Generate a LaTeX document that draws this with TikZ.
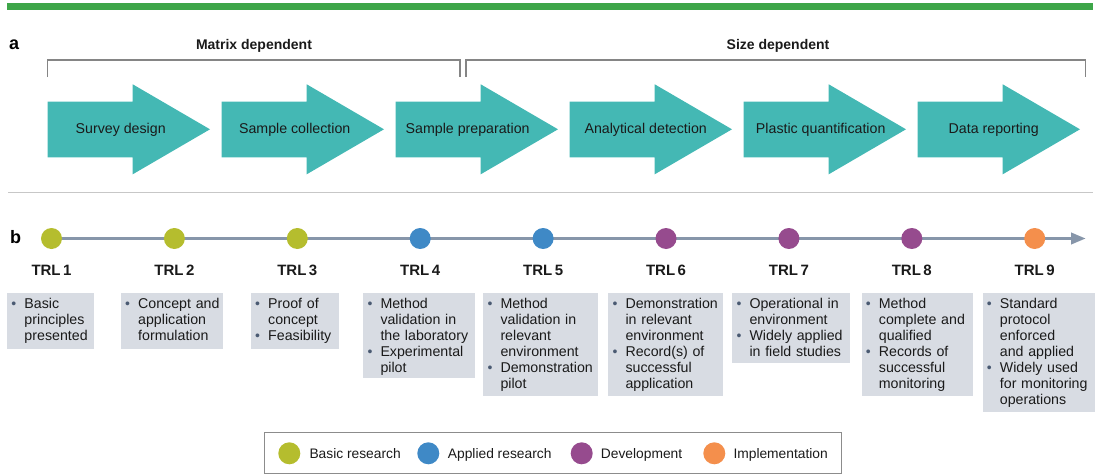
\documentclass[tikz,border=0pt]{standalone}
\usepackage{fontspec}
\setmainfont{Liberation Sans}
\usetikzlibrary{arrows.meta}

\definecolor{barGreen}{HTML}{3EA649}
\definecolor{stepTeal}{HTML}{44B8B4}
\definecolor{basicC}{HTML}{B5BD2E}
\definecolor{appliedC}{HTML}{3F89C6}
\definecolor{devC}{HTML}{964B8E}
\definecolor{implC}{HTML}{F48F4C}
\definecolor{axisC}{HTML}{8796AA}
\definecolor{boxC}{HTML}{D8DCE3}
\definecolor{bulletC}{HTML}{4A5A72}
\definecolor{bracketC}{HTML}{858585}
\definecolor{inkC}{HTML}{1A1A1A}

\newcommand{\txtfont}{\fontsize{14.2}{16}\selectfont}
\newcommand{\bul}{\makebox[12pt][l]{\hspace*{-1pt}\textcolor{bulletC}{\fontsize{14}{14}\selectfont •}}}
\newcommand{\ind}{\hspace*{12pt}}

\tikzset{
  steplabel/.style={font=\fontsize{14.2}{16}\selectfont, text=inkC, inner sep=0pt, anchor=base},
  header/.style={font=\fontsize{14}{16}\selectfont\bfseries, text=inkC, inner sep=0pt, anchor=base},
  panel/.style={font=\fontsize{18}{20}\selectfont\bfseries, text=black, inner sep=0pt, anchor=base west},
  bracket/.style={draw=bracketC, line width=1.1pt},
  trldot/.style={circle, minimum size=21pt, inner sep=0pt},
  trllabel/.style={font=\fontsize{15}{16}\selectfont\bfseries, text=inkC, inner sep=0pt, anchor=base},
  trlbox/.style={fill=boxC, draw=none},
  trltext/.style={font=\txtfont, text=inkC, inner sep=0pt, anchor=north west, align=left, text width=130pt},
  legdot/.style={circle, minimum size=22pt, inner sep=0pt},
  legtext/.style={font=\fontsize{13.8}{16}\selectfont, text=inkC, inner sep=0pt, anchor=base west},
}

\begin{document}
\begin{tikzpicture}[x=1pt, y=-1pt]
\useasboundingbox (0,0) rectangle (1098,474);

% top rule
\fill[barGreen] (7,2.5) rectangle (1093,9.5);

% ---------- panel a ----------
\node[panel] (pa) at (9,49) {a};
\node[header] (hm) at (254,49.3) {Matrix dependent};
\node[header] (hs) at (778,49.3) {Size dependent};

\draw[bracket] (47.7,77) -- (47.7,60) -- (460,60) -- (460,77);
\draw[bracket] (466,77) -- (466,60) -- (1085.5,60) -- (1085.5,77);

% workflow steps
\foreach \i/\lab/\dx in {1/Survey design/73, 2/Sample collection/73, 3/Sample preparation/72,
                         4/Analytical detection/76, 5/Plastic quantification/77, 6/Data reporting/76}{
  \pgfmathsetmacro{\sx}{47.7+174*(\i-1)}
  \fill[stepTeal] (\sx,101.7) -- (\sx+85,101.7) -- (\sx+85,84.3) -- (\sx+162.3,129.3)
                  -- (\sx+85,174.3) -- (\sx+85,157.3) -- (\sx,157.3) -- cycle;
  \node[steplabel] (step\i) at (\sx+\dx,133.8) {\lab};
}

% section divider
\draw[draw=black!22, line width=1.1pt] (8,192.7) -- (1093,192.7);

% ---------- panel b ----------
\node[panel] (pb) at (10,243) {b};

\coordinate (axisend) at (1086,238.5);
\node[trldot] (c1) at (51.5,238.5) {};
\draw[axisC, line width=3.6pt, -{Triangle[length=15pt,width=11pt]}] (c1.center) -- (axisend);

\foreach \i/\col in {1/basicC,2/basicC,3/basicC,4/appliedC,5/appliedC,6/devC,7/devC,8/devC,9/implC}{
  \pgfmathsetmacro{\cx}{51.5+122.9*(\i-1)}
  \node[trldot, fill=\col] (trl\i) at (\cx,238.5) {};
  \node[trllabel] (lab\i) at (\cx,275) {TRL\,\i};
}

% description boxes: left, right, bottom
\fill[trlbox] (7.3,293.3) rectangle (94,349.3);
\fill[trlbox] (121,293.3) rectangle (223.3,349.3);
\fill[trlbox] (251,293.3) rectangle (339.3,349.3);
\fill[trlbox] (363.3,293.3) rectangle (475,378.3);
\fill[trlbox] (483.3,293.3) rectangle (598.3,395.7);
\fill[trlbox] (608.3,293.3) rectangle (722.7,395.7);
\fill[trlbox] (732.3,293.3) rectangle (850,363.3);
\fill[trlbox] (861.7,293.3) rectangle (973.3,395.7);
\fill[trlbox] (982.7,293.3) rectangle (1095,411.7);

\node[trltext] (d1) at (12.3,298.0) {\bul Basic\\\ind principles\\\ind presented};
\node[trltext] (d2) at (126,298.0) {\bul Concept and\\\ind application\\\ind formulation};
\node[trltext] (d3) at (256,298.0) {\bul Proof of\\\ind concept\\\bul Feasibility};
\node[trltext] (d4) at (368.3,298.0) {\bul Method\\\ind validation in\\\ind the laboratory\\\bul Experimental\\\ind pilot};
\node[trltext] (d5) at (488.3,298.0) {\bul Method\\\ind validation in\\\ind relevant\\\ind environment\\\bul Demonstration\\\ind pilot};
\node[trltext] (d6) at (613.3,298.0) {\bul Demonstration\\\ind in relevant\\\ind environment\\\bul Record(s) of\\\ind successful\\\ind application};
\node[trltext] (d7) at (737.3,298.0) {\bul Operational in\\\ind environment\\\bul Widely applied\\\ind in field studies};
\node[trltext] (d8) at (866.7,298.0) {\bul Method\\\ind complete and\\\ind qualified\\\bul Records of\\\ind successful\\\ind monitoring};
\node[trltext] (d9) at (987.7,298.0) {\bul Standard\\\ind protocol\\\ind enforced\\\ind and applied\\\bul Widely used\\\ind for monitoring\\\ind operations};

% legend
\draw[draw=black!45, line width=1pt] (264,432.7) rectangle (841.7,473.3);
\node[legdot, fill=basicC] (lg1) at (289.3,453.3) {};
\node[legtext] (lt1) at (309.3,458.3) {Basic research};
\node[legdot, fill=appliedC] (lg2) at (428.3,453.3) {};
\node[legtext] (lt2) at (447.7,458.3) {Applied research};
\node[legdot, fill=devC] (lg3) at (581.7,453.3) {};
\node[legtext] (lt3) at (600.7,458.3) {Development};
\node[legdot, fill=implC] (lg4) at (714.3,453.3) {};
\node[legtext] (lt4) at (733.3,458.3) {Implementation};
\end{tikzpicture}
\end{document}
